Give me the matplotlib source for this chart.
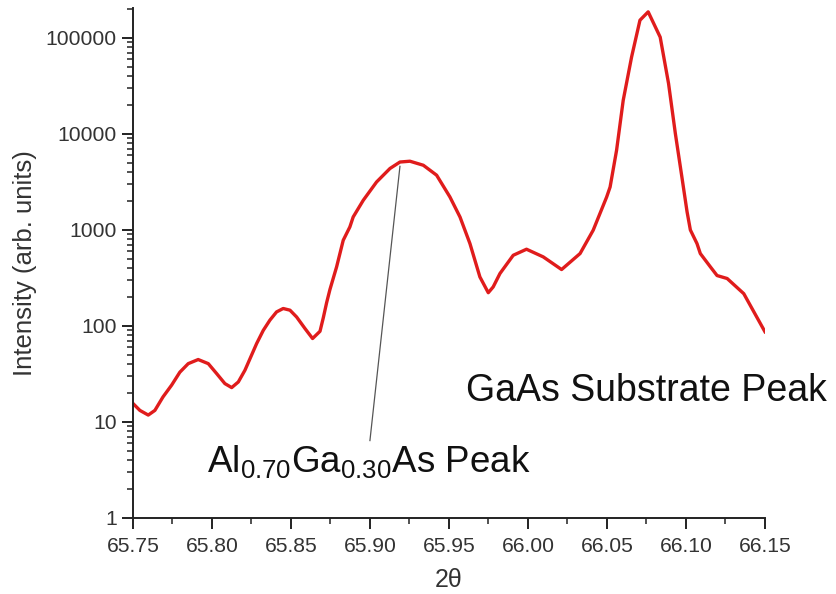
import numpy as np
import matplotlib.pyplot as plt
from matplotlib import rcParams
from matplotlib.ticker import LogLocator, NullFormatter, MultipleLocator, FixedLocator

rcParams['font.family'] = ['Liberation Sans', 'DejaVu Sans']
rcParams['mathtext.fontset'] = 'custom'
rcParams['mathtext.rm'] = 'Liberation Sans'
rcParams['mathtext.it'] = 'Liberation Sans'

# 2theta (deg) and intensity
two_theta = [65.750, 65.7544, 65.7597, 65.7639, 65.769, 65.7745, 65.7797, 65.785,
             65.7913, 65.7977, 65.803, 65.8082, 65.8125, 65.8167, 65.8209, 65.8283,
             65.8325, 65.8367, 65.8409, 65.8451, 65.8494, 65.8536, 65.8589, 65.8637,
             65.8684, 65.8705, 65.8726, 65.8747, 65.8789, 65.8831, 65.8873, 65.8894,
             65.8958, 65.9042, 65.9127, 65.919, 65.9253, 65.9338, 65.9422, 65.9506,
             65.957, 65.9633, 65.9696, 65.9749, 65.978, 65.9823, 65.9907, 65.9991,
             66.0097, 66.0213, 66.033, 66.0413, 66.0498, 66.052, 66.0561, 66.0603,
             66.0656, 66.0709, 66.0761, 66.0837, 66.089, 66.0933, 66.0975, 66.1007,
             66.1028, 66.107, 66.1091, 66.1155, 66.1197, 66.1261, 66.1366, 66.150]
intensity = [15.6, 13.2, 11.8, 13.2, 18.2, 24.2, 33, 40.5,
             44.7, 40.5, 31.9, 25.1, 22.8, 26.1, 34.6, 65.6,
             90, 115, 140, 152, 146, 124, 94, 74,
             88, 122, 175, 240, 412, 781, 1075, 1365,
             2040, 3160, 4370, 5100, 5200, 4720, 3720, 2210,
             1365, 721, 324, 222, 255, 352, 545, 630,
             524, 387, 568, 994, 2200, 2800, 6760, 22400,
             63300, 153000, 187000, 102000, 33500, 10100, 3500, 1550,
             1000, 721, 568, 412, 335, 312, 217, 87]

x_ticks = [65.75, 65.80, 65.85, 65.90, 65.95, 66.00, 66.05, 66.10, 66.15]
y_ticks = [1, 10, 100, 1000, 10000, 100000]

fig = plt.figure(figsize=(8.36, 5.94), dpi=100)
ax = fig.add_axes([0.159, 0.128, 0.756, 0.8585])

ax.plot(two_theta, intensity, color='#e01c1c', lw=2.4, solid_joinstyle='round')

ax.set_yscale('log')
ax.set_xlim(65.75, 66.15)
ax.set_ylim(1, 2.05e5)

ax.xaxis.set_major_locator(FixedLocator(x_ticks))
ax.xaxis.set_minor_locator(MultipleLocator(0.025))
ax.set_xticklabels([f"{v:.2f}" for v in x_ticks])
ax.yaxis.set_major_locator(FixedLocator(y_ticks))
ax.set_yticklabels([str(v) for v in y_ticks])
ax.yaxis.set_minor_locator(LogLocator(base=10, subs=np.arange(2, 10)))
ax.yaxis.set_minor_formatter(NullFormatter())

for s in ['top', 'right']:
    ax.spines[s].set_visible(False)
for s in ['left', 'bottom']:
    ax.spines[s].set_linewidth(1.4)
    ax.spines[s].set_color('#222222')

ax.tick_params(which='major', direction='out', length=8, width=1.4, labelsize=15.2,
               labelcolor='#333333', color='#222222')
ax.tick_params(axis='x', which='major', pad=6)
ax.tick_params(which='minor', direction='out', length=4, width=1.1, color='#222222')

ax.set_xlabel('2θ', fontsize=18, color='#333333', labelpad=8)
ax.set_ylabel('Intensity (arb. units)', fontsize=18.5, color='#333333', labelpad=6)

# annotation line and labels
ax.plot([65.919, 65.900], [4600, 6.4], color='#555555', lw=0.9)
ax.text(65.7968, 3.0, r'Al$_{0.70}$Ga$_{0.30}$As Peak', fontsize=26.5, color='#111111',
        ha='left', va='baseline')
ax.text(65.9608, 16.5, 'GaAs Substrate Peak', fontsize=27, color='#111111',
        ha='left', va='baseline', clip_on=False)

fig.savefig('out.png', dpi=100)
